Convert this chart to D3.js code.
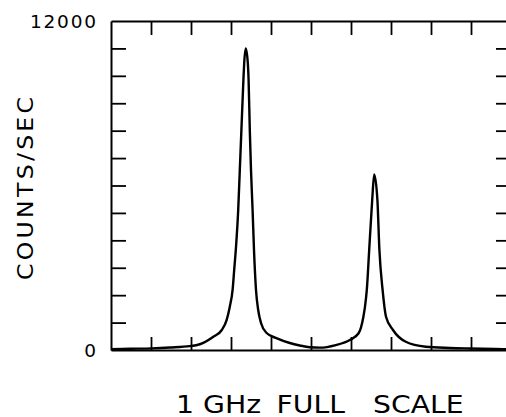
<!DOCTYPE html>
<html>
<head>
<meta charset="utf-8">
<script src="https://cdn.jsdelivr.net/npm/d3@7"></script>
<style>
  html, body { margin: 0; padding: 0; background: #fff; }
  svg { display: block; }
  text { font-family: "DejaVu Sans", "Liberation Sans", sans-serif; fill: #000; }
</style>
</head>
<body>
<svg id="chart" width="506" height="417"></svg>
<script>
// Frequency offset across the sweep, MHz (1 GHz full scale)
const freqMHz = [
  0, 47, 102, 147, 197, 222, 255, 277, 289, 297, 304, 308, 312, 318, 322, 326,
  331, 333, 337, 342, 344, 347, 350, 354, 357.5, 362.5, 368, 375, 389, 415, 447,
  472, 497, 522, 562, 597, 619, 631, 635, 639.5, 645.5, 653, 658, 666, 671, 679,
  687.5, 705, 737, 787, 847, 897, 980, 1000
];
// Detector count rate at each frequency, counts/sec
const countsPerSec = [
  30, 45, 60, 90, 140, 210, 475, 730, 1090, 1580, 2190, 2920, 3650, 5100, 6560, 8020,
  9850, 10470, 11000, 10470, 9850, 8020, 6560, 5100, 3650, 2190, 1460, 985, 620, 425, 255,
  165, 100, 85, 180, 365, 610, 1215, 1580, 2190, 3650, 5470, 6400, 5470, 3650, 2190,
  1215, 730, 300, 120, 75, 55, 30, 25
];
// Axis ticks
const xTicks = [100, 200, 300, 400, 500, 600, 700, 800, 900];
const yTicks = [1000, 2000, 3000, 4000, 5000, 6000, 7000, 8000, 9000, 10000, 11000];
const yLabelValues = [0, 12000];
const yLabelText = ["0", "12000"];
const yTitle = "COUNTS/SEC";
const xTitleWords = ["1", "GHz", "FULL", "SCALE"];

const svg = d3.select("#chart");
const plotLeft = 111, plotRight = 511, plotTop = 21, plotBottom = 350;

const x = d3.scaleLinear().domain([0, 1000]).range([plotLeft, plotRight]);
const y = d3.scaleLinear().domain([0, 12000]).range([plotBottom, plotTop]);

// Inward-pointing ticks on all four sides
const axisStyle = g => {
  g.select(".domain").attr("stroke", "#000").attr("stroke-width", 2);
  g.selectAll(".tick line").attr("stroke", "#000").attr("stroke-width", 1.8);
  g.selectAll(".tick text").remove();
};

svg.append("g").attr("transform", `translate(0,${plotBottom})`)
  .call(d3.axisBottom(x).tickValues(xTicks).tickSizeInner(-13).tickSizeOuter(0))
  .call(axisStyle);
svg.append("g").attr("transform", `translate(0,${plotTop})`)
  .call(d3.axisTop(x).tickValues(xTicks).tickSizeInner(-14).tickSizeOuter(0))
  .call(axisStyle);
svg.append("g").attr("transform", `translate(${plotLeft},0)`)
  .call(d3.axisLeft(y).tickValues(yTicks).tickSizeInner(-15).tickSizeOuter(0))
  .call(axisStyle);
svg.append("g").attr("transform", `translate(${plotRight},0)`)
  .call(d3.axisRight(y).tickValues(yTicks).tickSizeInner(-15).tickSizeOuter(0))
  .call(axisStyle);

// Spectrum trace
const pts = freqMHz.map((f, i) => [f, countsPerSec[i]]);
const line = d3.line()
  .x(d => x(d[0]))
  .y(d => y(d[1]))
  .curve(d3.curveMonotoneX);
svg.append("path")
  .datum(pts)
  .attr("d", line)
  .attr("fill", "none")
  .attr("stroke", "#000")
  .attr("stroke-width", 2.4)
  .attr("stroke-linejoin", "round");

// Y value labels (only the ends of the scale)
const yLab = yLabelValues.map((v, i) => ({ v, t: yLabelText[i] }));
svg.selectAll("text.ylab").data(yLab).enter().append("text")
  .attr("class", "ylab")
  .attr("x", 96)
  .attr("y", d => y(d.v) + 7)
  .attr("text-anchor", "end")
  .attr("font-size", 18.5)
  .attr("textLength", d => d.t.length > 1 ? 66 : null)
  .text(d => d.t);

// Y title: wide lettering, rotated
const glyphStretch = 1.15;
svg.append("text")
  .attr("transform", `translate(33,188.5) rotate(-90) scale(${glyphStretch},1)`)
  .attr("text-anchor", "middle")
  .attr("font-size", 20.5)
  .attr("textLength", 183 / glyphStretch)
  .text(yTitle);

// X title: one line of wide lettering with generous word gaps
const xStretch = 1.23;
const wordGap = [0, 0, 5.3, 15.5];
const xTitle = svg.append("text")
  .attr("transform", `translate(0,412.5) scale(${xStretch},1.06)`)
  .attr("x", 176 / xStretch)
  .attr("y", 0)
  .attr("font-size", 23);
xTitle.selectAll("tspan").data(xTitleWords).enter().append("tspan")
  .attr("dx", (d, i) => wordGap[i])
  .text((d, i) => i === 0 ? d : " " + d);
</script>
</body>
</html>
